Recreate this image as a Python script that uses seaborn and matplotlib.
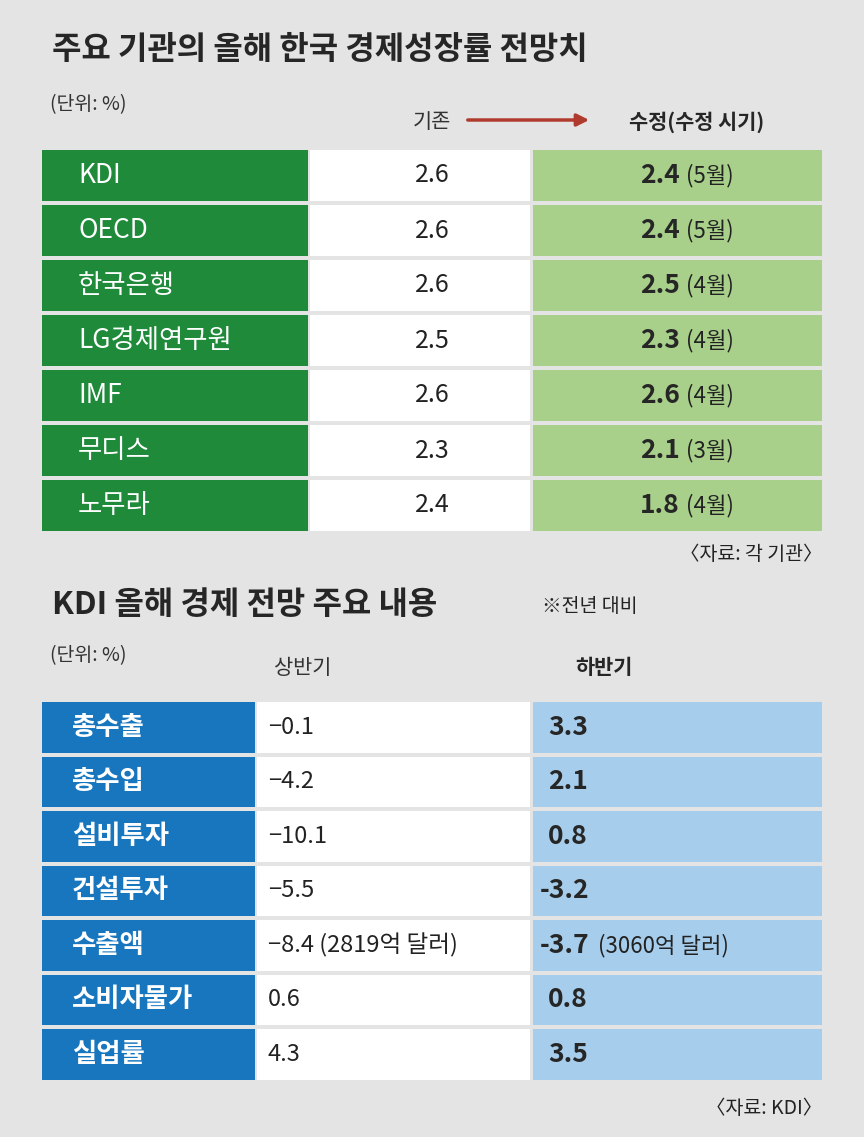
import matplotlib.pyplot as plt
import seaborn as sns
import numpy as np

# 주요 기관 전망치
institutions = ["KDI", "OECD", "한국은행", "LG경제연구원", "IMF", "무디스", "노무라"]
previous = [2.6, 2.6, 2.6, 2.5, 2.6, 2.3, 2.4]
revised = [2.4, 2.4, 2.5, 2.3, 2.6, 2.1, 1.8]
revised_month = ["5월", "5월", "4월", "4월", "4월", "3월", "4월"]

# KDI 전망 주요 내용
items = ["총수출", "총수입", "설비투자", "건설투자", "수출액", "소비자물가", "실업률"]
first_half = [-0.1, -4.2, -10.1, -5.5, -8.4, 0.6, 4.3]
second_half = [3.3, 2.1, 0.8, -3.2, -3.7, 0.8, 3.5]
first_note = ["", "", "", "", "(2819억 달러)", "", ""]
second_note = ["", "", "", "", "(3060억 달러)", "", ""]

sns.set_theme(style="white")
plt.rcParams["font.family"] = ["Noto Sans CJK KR", "Noto Sans CJK JP", "Noto Sans CJK SC", "DejaVu Sans"]
BG = "#e4e4e4"
fig = plt.figure(figsize=(8.64, 11.37), dpi=100, facecolor=BG)
ax = fig.add_axes([0, 0, 1, 1])
ax.set_xlim(0, 864)
ax.set_ylim(1137, 0)
ax.axis("off")

def fmt(v):
    return f"{v:.1f}".replace("-", "\u2212") if v < 0 else f"{v:.1f}"

# ---- table 1
ax.text(52, 50, "주요 기관의 올해 한국 경제성장률 전망치", fontsize=23, fontweight="bold", va="center")
ax.text(50, 105, "(단위: %)", fontsize=14, va="center", color="#333")
ax.text(432, 122, "기존", fontsize=15, va="center", ha="center", color="#333")
ax.annotate("", xy=(592, 120), xytext=(465, 120),
            arrowprops=dict(arrowstyle="-|>", color="#b03a2e", lw=2.5, mutation_scale=18))
ax.text(697, 122, "수정(수정 시기)", fontsize=15, fontweight="bold", va="center", ha="center")

top1, rh1 = 148, 55
y1 = top1 + rh1 * np.arange(len(institutions)) + rh1 / 2
h = rh1 - 4
ax.barh(y1, 266, left=42, height=h, color="#1e8a3a", linewidth=0)
ax.barh(y1, 220, left=310, height=h, color="white", linewidth=0)
ax.barh(y1, 289, left=533, height=h, color="#a8d08a", linewidth=0)
for y, name, p, r, m in zip(y1, institutions, previous, revised, revised_month):
    ax.text(78, y, name, color="white", fontsize=19, va="center")
    ax.text(432, y, fmt(p), fontsize=18, va="center", ha="center", color="#222")
    ax.text(680, y, fmt(r), fontsize=19, fontweight="bold", va="center", ha="right")
    ax.text(686, y, f"({m})", fontsize=16, va="center", ha="left", color="#222")
ax.text(822, 555, "〈자료: 각 기관〉", fontsize=14, va="center", ha="right", color="#222")

# ---- table 2
ax.text(52, 605, "KDI 올해 경제 전망 주요 내용", fontsize=23, fontweight="bold", va="center")
ax.text(542, 607, "※전년 대비", fontsize=14, va="center", color="#222")
ax.text(50, 656, "(단위: %)", fontsize=14, va="center", color="#333")
ax.text(303, 668, "상반기", fontsize=15, va="center", ha="center", color="#333")
ax.text(604, 668, "하반기", fontsize=15, fontweight="bold", va="center", ha="center")

top2, rh2 = 700, 54.5
y2 = top2 + rh2 * np.arange(len(items)) + rh2 / 2
h = rh2 - 4
ax.barh(y2, 213, left=42, height=h, color="#1776be", linewidth=0)
ax.barh(y2, 273, left=257, height=h, color="white", linewidth=0)
ax.barh(y2, 289, left=533, height=h, color="#a6cdeb", linewidth=0)
for y, name, a, b, na, nb in zip(y2, items, first_half, second_half, first_note, second_note):
    ax.text(72, y, name, color="white", fontsize=19, fontweight="bold", va="center")
    ax.text(268, y, fmt(a) + (" " + na if na else ""), fontsize=17, va="center", color="#222")
    ax.text(548 if b >= 0 else 540, y, f"{b:.1f}", fontsize=19, fontweight="bold", va="center")
    if nb:
        ax.text(598, y, nb, fontsize=16, va="center", color="#222")
ax.text(822, 1108, "〈자료: KDI〉", fontsize=14, va="center", ha="right", color="#222")

fig.savefig("out.png", dpi=100, facecolor=BG)
